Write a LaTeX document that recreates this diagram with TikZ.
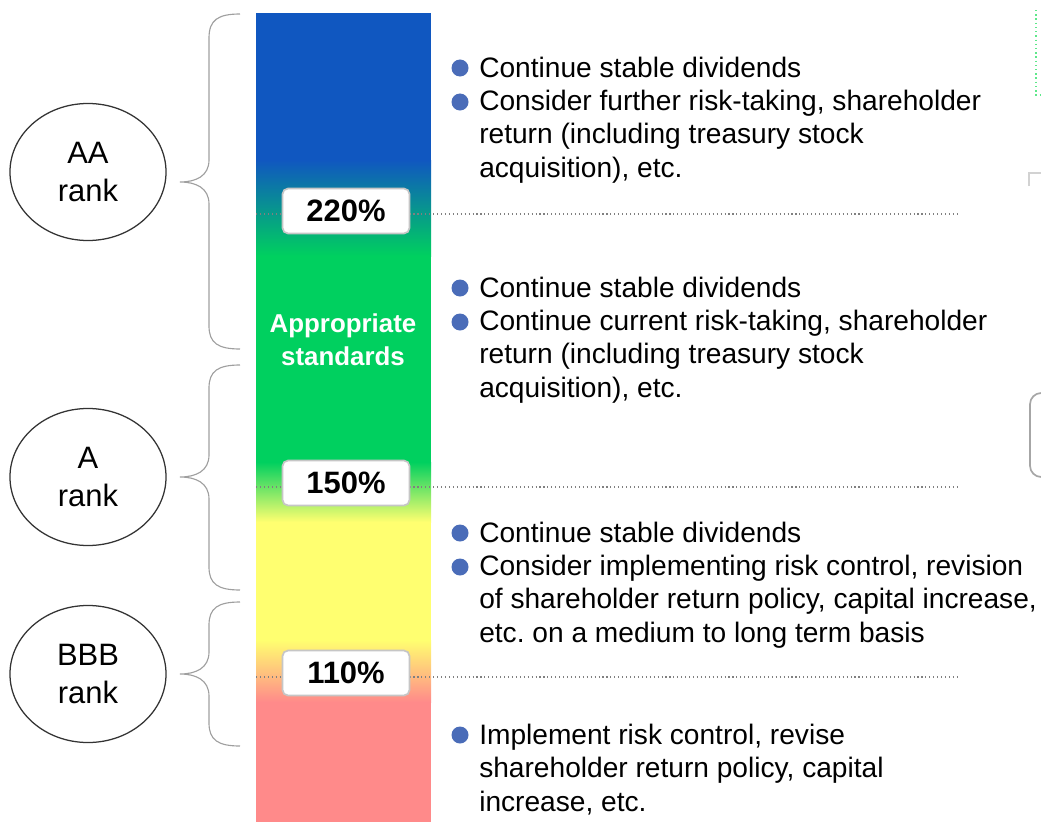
\documentclass[tikz,border=0pt]{standalone}
\usepackage{fontspec}
\setmainfont{Liberation Sans}
\frenchspacing
\usetikzlibrary{shapes.geometric, positioning}
\definecolor{RankBlue}{HTML}{1057C0}
\definecolor{RankGreen}{HTML}{00D05F}
\definecolor{RankYellow}{HTML}{FFFF70}
\definecolor{RankPink}{HTML}{FF8A8A}
\definecolor{BulletBlue}{HTML}{4A6CB8}
\definecolor{GuideGreen}{HTML}{5EE88A}

\begin{document}
\begin{tikzpicture}[
    x=0.025cm, y=-0.025cm,
    % Rank ellipses
    rank/.style={
            ellipse,
            draw=black!80,
            line width=0.9pt,
            minimum width=3.9cm,
            minimum height=3.425cm,
            align=center,
            font=\fontsize{22}{27}\selectfont
        },
    % Curly braces
    brace/.style={
            draw=gray!75,
            line width=0.8pt
        },
    % Threshold labels
    level/.style={
            rectangle,
            rounded corners=4pt,
            draw=gray!45,
            line width=1.2pt,
            fill=white,
            minimum width=3.175cm,
            minimum height=1.125cm,
            font=\bfseries\fontsize{22}{26}\selectfont
        },
    threshold/.style={
            draw=gray,
            dotted,
            line width=0.8pt
        },
    % Bullet list (anchored on the baseline of the last line)
    bullet/.style={
            circle,
            fill=BulletBlue,
            inner sep=0pt,
            minimum size=0.425cm
        },
    item/.style={
            anchor=base west,
            align=left,
            inner sep=0pt,
            font=\fontsize{20}{23.6}\selectfont
        }
    ]

    \useasboundingbox (0,0) rectangle (1041,822);
    \clip (0,0) rectangle (1041,822);

    % ========== COLOUR BAR ==========
    \fill[RankBlue] (256,13) rectangle (431,166);
    \fill[RankGreen] (256,160) rectangle (431,468);
    \fill[RankYellow] (256,462) rectangle (431,645);
    \fill[RankPink] (256,640) rectangle (431,822);
    \shade[top color=RankBlue, bottom color=RankGreen] (256,160) rectangle (431,256);
    \shade[top color=RankGreen, bottom color=RankYellow] (256,462) rectangle (431,522);
    \shade[top color=RankYellow, bottom color=RankPink] (256,640) rectangle (431,702);

    \node[font=\bfseries\fontsize{18.4}{23.5}\selectfont, text=white, align=center] (approp) at (343,340) {Appropriate\\standards};

    % ========== THRESHOLDS ==========
    \coordinate (end220) at (958,214);
    \coordinate (end150) at (958,487);
    \coordinate (end110) at (958,677);
    \draw[threshold] (256,214) -- (end220);
    \draw[threshold] (256,487) -- (end150);
    \draw[threshold] (256,677) -- (end110);

    \node[level] (lvl220) at (346,211) {220\%};
    \node[level] (lvl150) at (346,483) {150\%};
    \node[level] (lvl110) at (346,673) {110\%};

    % ========== RANKS ==========
    \node[rank] (rankAA) at (88,172) {AA\\rank};
    \node[rank] (rankA) at (88,477) {A\\rank};
    \node[rank] (rankBBB) at (88,674) {BBB\\rank};

    % Braces
    \draw[brace] (240,14) .. controls (218,14) and (209,20) .. (209,38) -- (209,160)
        .. controls (209,176) and (196,182) .. (180,182)
        .. controls (196,182) and (209,188) .. (209,204) -- (209,326)
        .. controls (209,343) and (218,349) .. (240,349);
    \draw[brace] (240,365) .. controls (218,365) and (209,371) .. (209,388) -- (209,455)
        .. controls (209,471) and (196,477) .. (180,477)
        .. controls (196,477) and (209,483) .. (209,499) -- (209,567)
        .. controls (209,584) and (218,590) .. (240,590);
    \draw[brace] (240,602) .. controls (218,602) and (209,608) .. (209,625) -- (209,652)
        .. controls (209,668) and (196,674) .. (180,674)
        .. controls (196,674) and (209,680) .. (209,696) -- (209,723)
        .. controls (209,740) and (218,746) .. (240,746);

    % ========== MEASURES ==========
    \node[bullet] (bAA1) at (460,68) {};
    \node[bullet] (bAA2) at (460,102) {};
    \node[item] (txtAA) at (479,177) {Continue stable dividends\\Consider further risk-taking, shareholder\\return (including treasury stock\\acquisition), etc.};

    \node[bullet] (bA1) at (460,288) {};
    \node[bullet] (bA2) at (460,322) {};
    \node[item] (txtA) at (479,397) {Continue stable dividends\\Continue current risk-taking, shareholder\\return (including treasury stock\\acquisition), etc.};

    \node[bullet] (bBBB1) at (460,533) {};
    \node[bullet] (bBBB2) at (460,567) {};
    \node[item] (txtBBB) at (479,642) {Continue stable dividends\\Consider implementing risk control, revision\\of shareholder return policy, capital increase,\\etc. on a medium to long term basis};

    \node[bullet] (bLow) at (460,735) {};
    \node[item] (txtLow) at (479,811) {Implement risk control, revise\\shareholder return policy, capital\\increase, etc.};

    % Cut-off shapes at the right edge
    \draw[GuideGreen, dotted, line width=1pt] (1036,10) -- (1036,95) -- (1050,95);
    \draw[gray!35, line width=1pt] (1029,186) -- (1029,173) -- (1050,173);
    \draw[gray!70, line width=1.2pt, rounded corners=8pt] (1030,393) rectangle (1080,477);

\end{tikzpicture}
\end{document}
